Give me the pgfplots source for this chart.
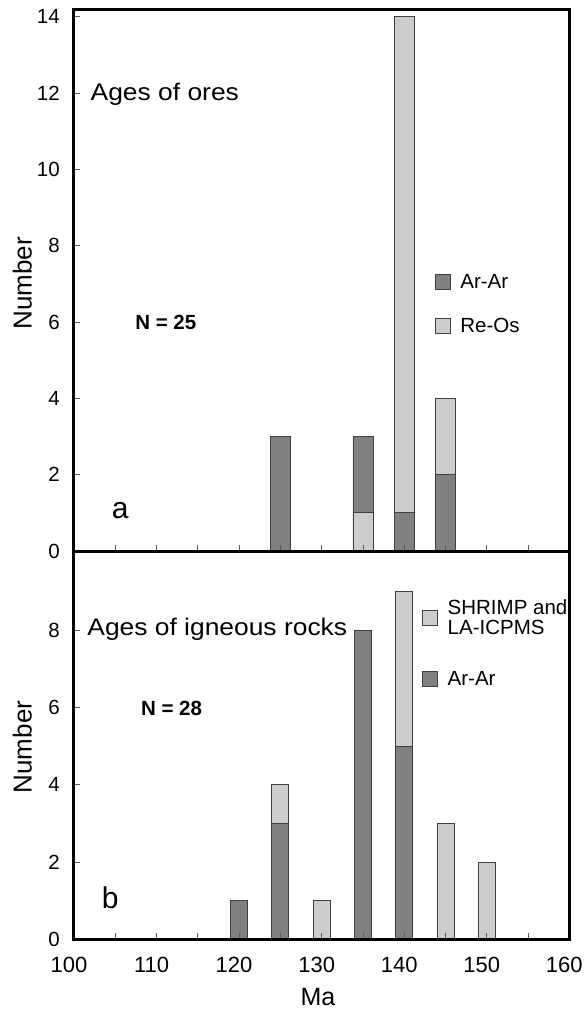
\documentclass[border=0pt]{standalone}
\usepackage{pgfplots}
\pgfplotsset{compat=1.18}
\usepackage{fontspec}
\setmainfont{Liberation Sans}
\newfontfamily\titlefont{Liberation Sans}[FakeStretch=1.1]
\definecolor{darkbar}{gray}{0.5}
\definecolor{lightbar}{gray}{0.8}
\tikzset{txt/.style={inner sep=0pt, anchor=base west}}
\pgfplotsset{
 panel/.style={
  scale only axis, width=495.3pt, xmin=100, xmax=160,
  ymin=0, axis on top,
  axis line style={line width=3pt},
  tick align=inside, xtick pos=left, ytick pos=left,
  major tick length=6pt,
  tick style={line width=0.8pt, black!65},
  xtick={100,105,...,160},
  /pgf/number format/assume math mode=true,
  yticklabel style={font=\fontsize{20.5}{20.5}\selectfont, anchor=east, inner sep=0pt, xshift=-14pt},
  ylabel={Number},
  ylabel style={font=\fontsize{26}{26}\selectfont, inner sep=0pt, at={(axis description cs:0,0.495)}, anchor=base, yshift=42.3pt},
  legend image code/.code={\draw[#1] (0pt,-7.5pt) rectangle (15pt,7.5pt);},
  legend style={draw=none, fill=none, inner sep=0pt, anchor=north west,
     font=\fontsize{20.5}{20}\selectfont, cells={anchor=west, align=left, inner sep=0pt},
     /tikz/every odd column/.append style={column sep=8pt}},
 },
 darkb/.style={ybar, bar shift=0pt, fill=darkbar, draw=black!75, line width=0.8pt, forget plot},
 lightb/.style={ybar, bar shift=0pt, fill=lightbar, draw=black!75, line width=0.8pt, forget plot},
}
\begin{document}
\begin{tikzpicture}
\useasboundingbox (0,0) rectangle (584pt,-1011pt);
% ---------------- top panel ----------------
\begin{axis}[panel, at={(74pt,-10pt)}, anchor=north west, height=541pt,
  ymax=14.18, ytick={0,2,...,14}, xticklabel=\empty,
  legend style={at={(axis cs:143.65,7.31)}, row sep=24.1pt}]
\addlegendimage{fill=darkbar, draw=black!75, line width=0.8pt}
\addlegendentry{Ar-Ar}
\addlegendimage{fill=lightbar, draw=black!75, line width=0.8pt}
\addlegendentry{Re-Os}
\addplot[darkb, bar width=20pt] coordinates {(125,3) (135,3)};
\addplot[lightb, bar width=20pt] coordinates {(140,14) (145,4)};
\addplot[lightb, bar width=20pt] coordinates {(135,1)};
\addplot[darkb, bar width=20pt] coordinates {(140,1) (145,2)};
\node[txt, font=\titlefont\fontsize{24}{24}\selectfont] at (axis cs:102,11.82) {Ages of ores};
\node[txt, font=\bfseries\fontsize{20.5}{20.5}\selectfont] at (axis cs:107.4,5.81) {N = 25};
\node[txt, font=\fontsize{30}{30}\selectfont] at (axis cs:104.57,0.865) {a};
\end{axis}
% ---------------- bottom panel ----------------
\begin{axis}[panel, at={(74pt,-551pt)}, anchor=north west, height=388.3pt,
  ymax=10.05, ytick={0,2,...,8},
  xticklabels={100,,110,,120,,130,,140,,150,,160},
  xticklabel style={font=\fontsize{22}{22}\selectfont, anchor=north, inner sep=0pt, yshift=-17.7pt, xshift=-5pt},
  xlabel={Ma},
  xlabel style={font=\fontsize{25}{25}\selectfont, inner sep=0pt, at={(axis description cs:0.4926,0)}, anchor=base, yshift=-66pt},
  legend style={at={(axis cs:142.12,8.84)}, row sep=30.7pt}]
\addlegendimage{fill=lightbar, draw=black!75, line width=0.8pt}
\addlegendentry{SHRIMP and\\LA-ICPMS}
\addlegendimage{fill=darkbar, draw=black!75, line width=0.8pt}
\addlegendentry{Ar-Ar}
\addplot[darkb, bar width=17pt] coordinates {(120,1) (135,8)};
\addplot[lightb, bar width=17pt] coordinates {(125,4) (130,1) (140,9) (145,3) (150,2)};
\addplot[darkb, bar width=17pt] coordinates {(125,3) (140,5)};
\node[txt, font=\titlefont\fontsize{24}{24}\selectfont] at (axis cs:101.6,7.87) {Ages of igneous rocks};
\node[txt, font=\bfseries\fontsize{20.5}{20.5}\selectfont] at (axis cs:108.1,5.79) {N = 28};
\node[txt, font=\fontsize{30}{30}\selectfont] at (axis cs:103.35,0.81) {b};
\end{axis}
\end{tikzpicture}
\end{document}
